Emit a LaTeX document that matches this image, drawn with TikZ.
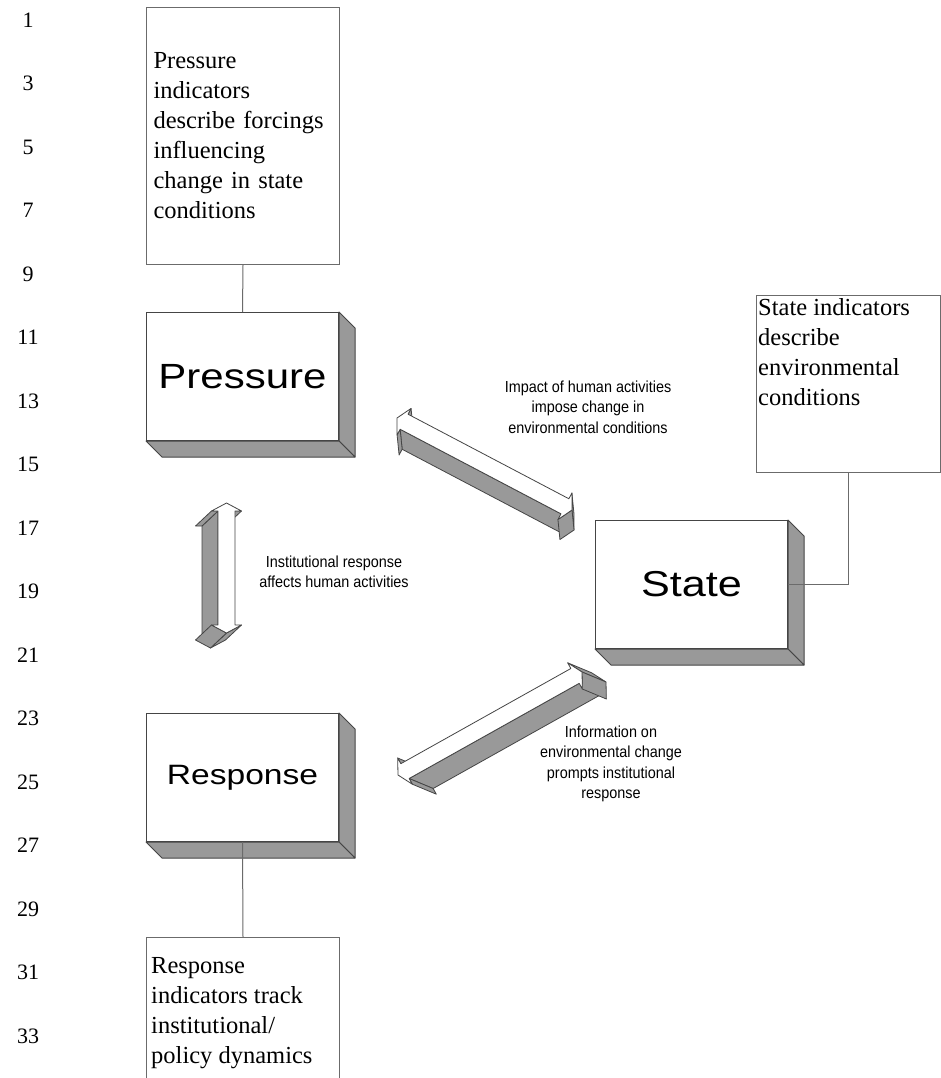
\documentclass[tikz,border=0pt]{standalone}
\usepackage{xcolor}
\usepackage{fontspec}
\setmainfont{Liberation Serif}
\newfontfamily\boxfont[FakeStretch=1.2]{Liberation Sans}
\newfontfamily\notefont[FakeStretch=0.9]{Liberation Sans}
\usepackage{tikz}
\usetikzlibrary{calc,positioning}

\definecolor{sidegray}{gray}{0.6}
\definecolor{edgegray}{gray}{0.27}
\definecolor{framegray}{gray}{0.42}

% grey side faces of a 3D box node
\newcommand\boxsides[1]{%
  \draw[sideface] (#1.north east) -- ++(16,16) -- ($(#1.south east)+(16,16)$) -- (#1.south east) -- cycle;
  \draw[sideface] (#1.south west) -- (#1.south east) -- ++(16,16) -- ($(#1.south west)+(16,16)$) -- cycle;}

% 3D double arrow: name, tip A, tip B, depth vector
\newcommand\blockarrow[4]{%
  \coordinate (#1-1) at (#2);
  \coordinate (#1-6) at (#3);
  \coordinate (#1-ha) at ($(#1-1)!8pt!(#1-6)$);
  \coordinate (#1-hb) at ($(#1-6)!8pt!(#1-1)$);
  \coordinate (#1-2) at ($(#1-ha)!15pt!90:(#1-6)$);
  \coordinate (#1-3) at ($(#1-ha)!8.5pt!90:(#1-6)$);
  \coordinate (#1-4) at ($(#1-hb)!8.5pt!-90:(#1-1)$);
  \coordinate (#1-5) at ($(#1-hb)!15pt!-90:(#1-1)$);
  \coordinate (#1-7) at ($(#1-hb)!15pt!90:(#1-1)$);
  \coordinate (#1-8) at ($(#1-hb)!8.5pt!90:(#1-1)$);
  \coordinate (#1-9) at ($(#1-ha)!8.5pt!-90:(#1-6)$);
  \coordinate (#1-10) at ($(#1-ha)!15pt!-90:(#1-6)$);
  \foreach \i in {1,...,10} \coordinate (#1-d\i) at ($(#1-\i)+(#4)$);
  %\draw[red] (#1-1) -- (#1-6);
  \foreach \i/\j in {2/3,8/9,9/10,5/6,6/7}
    \draw[arrside] (#1-\i) -- (#1-\j) -- (#1-d\j) -- (#1-d\i) -- cycle;
  \draw[arrtop] (#1-1) -- (#1-2) -- (#1-3) -- (#1-4) -- (#1-5) -- (#1-6)
    -- (#1-7) -- (#1-8) -- (#1-9) -- (#1-10) -- cycle;}

\begin{document}
\begin{tikzpicture}[x=1pt,y=-1pt,
  box3d/.style={draw=edgegray, fill=white, line width=1pt, minimum width=192pt,
    minimum height=128pt, inner sep=0pt, font=\boxfont},
  sideface/.style={fill=sidegray, draw=edgegray, line width=1pt, line join=round},
  arrside/.style={fill=sidegray, draw=edgegray, line width=0.8pt, line join=round},
  arrtop/.style={fill=white, draw=edgegray, line width=0.8pt, line join=round},
  infobox/.style={draw=framegray, line width=1pt, inner sep=0pt},
  infotext/.style={font=\fontsize{24.5}{30}\selectfont, align=left, inner sep=2pt},
  note/.style={font=\notefont\fontsize{16}{20.5}\selectfont, align=center},
  lineno/.style={font=\fontsize{22}{26}\selectfont},
  link/.style={draw=framegray, line width=1pt}]
\path[use as bounding box, fill=white] (0,0) rectangle (941,1078);

% line numbers of the manuscript
\foreach \n [evaluate=\n as \ny using 20+(\n-1)*31.75] in {1,3,...,33}
  \node[lineno] (ln\n) at (28,\ny) {\n};

% indicator boxes
\node[infobox, anchor=north west, minimum width=193pt, minimum height=257pt,
  text width=179pt, inner xsep=7pt, align=left, font=\fontsize{24.5}{30}\selectfont]
  (pind) at (146,7) {Pressure\\indicators\\describe forcings\\influencing\\change in state\\conditions};
\node[infobox, anchor=north west, minimum width=184pt, minimum height=177pt,
  label={[infotext, anchor=north west, yshift=-1pt]north west:State indicators\\describe\\environmental\\conditions}]
  (sind) at (756,295) {};
\node[infobox, anchor=north west, minimum width=193pt, minimum height=170pt,
  label={[infotext, anchor=north west, xshift=3pt, yshift=-18pt]north west:Response\\indicators track\\institutional/\\policy dynamics}]
  (rind) at (146,937) {};

% the three 3D boxes
\node[box3d, anchor=north west] (pressure) at (146,312) {\fontsize{35}{40}\selectfont Pressure};
\node[box3d, anchor=north west] (state) at (595,520) {\fontsize{36}{40}\selectfont State};
\node[box3d, anchor=north west] (response) at (146,713) {\fontsize{28}{32}\selectfont Response};
\boxsides{pressure}
\boxsides{state}
\boxsides{response}

\draw[link] (pind.south) -- (pressure.north);
\draw[link] (response.south) -- (rind.north);
\draw[link] (sind.south) |- (state.east);

% double arrows
\blockarrow{ps}{397,418}{572,510}{2,20}
\blockarrow{rp}{226.5,503}{226.5,633}{-16,15}
\blockarrow{sr}{398,775}{582,672}{24,10}

% arrow notes
\node[note] (impactnote) at (588,407) {Impact of human activities\\impose change in\\environmental conditions};
\node[note] (instnote) at (334,572) {Institutional response\\affects human activities};
\node[note] (infonote) at (611,764) {Information on\\environmental change\\prompts institutional\\response};
\end{tikzpicture}
\end{document}
